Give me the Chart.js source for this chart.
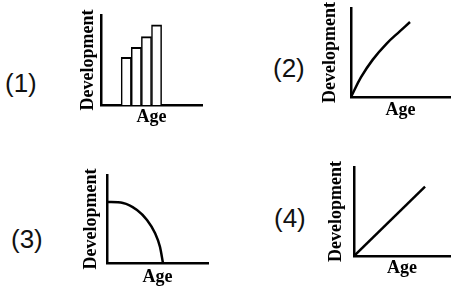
<!DOCTYPE html>
<html><head><meta charset="utf-8">
<script src="https://cdn.jsdelivr.net/npm/chart.js@4"></script>
<style>
html,body{margin:0;padding:0;background:#fff;width:451px;height:291px;overflow:hidden;position:relative}
canvas{position:absolute}
.lbl{position:absolute;font-family:"Liberation Sans",Arial,sans-serif;font-size:26px;line-height:26px;color:#111;white-space:nowrap}
</style></head><body>
<div class="lbl" id="l1" style="left:5px;top:70px"></div>
<div class="lbl" id="l2" style="left:273px;top:55px"></div>
<div class="lbl" id="l3" style="left:11px;top:226px"></div>
<div class="lbl" id="l4" style="left:274px;top:205px"></div>
<canvas id="c1"></canvas>
<canvas id="c2"></canvas>
<canvas id="c3"></canvas>
<canvas id="c4"></canvas>
<script>
// ---- data ----
const panelLabels = ["(1)", "(2)", "(3)", "(4)"];
const xAxisTitle = "Age";
const yAxisTitle = "Development";
// panel 1: bars
const barAges = ["1","2","3","4","5","6","7","8","9","10"];
const barDevelopment = [null, null, 53, 64, 76, 89, null, null, null, null];
// panel 2: rising, flattening curve
const curve2Age = [0, 10, 22, 36, 49.5, 59.6];
const curve2Dev = [0, 22, 42, 60, 74, 84.3];
// panel 3: falling quarter curve
const curve3Age = [0, 15.8, 29.7, 39.6, 47.5, 52.5, 55.4];
const curve3Dev = [69.3, 68.2, 60.2, 48.9, 34.1, 18.2, 0];
// panel 4: straight line
const line4Age = [0, 74];
const line4Dev = [0, 78];

panelLabels.forEach((t, i) => { document.getElementById('l' + (i + 1)).textContent = t; });

const FONT = '"Liberation Serif", "Times New Roman", serif';
const FS = 18;

function toXY(xs, ys) { return xs.map((x, i) => ({ x: x, y: ys[i] })); }

function panel(id, type, data, area, yMid, xMid, xScaleExtra) {
  const pY = Math.round(area.left - 9 - yMid);
  const qX = Math.round(xMid - area.bottom - 9);
  const padL = 4, padT = 8, padR = 1, padB = 7;
  const left = area.left - FS - pY - padL;
  const top = area.top - padT;
  const width = area.right + padR - left;
  const height = area.bottom + FS + qX + padB - top;
  const cv = document.getElementById(id);
  cv.style.left = left + 'px';
  cv.style.top = top + 'px';
  cv.width = width; cv.height = height;
  cv.style.width = width + 'px'; cv.style.height = height + 'px';
  const common = (title, pad) => ({
    display: true,
    grid: { display: false, drawTicks: false, tickLength: 0 },
    border: { display: true, color: '#000', width: 2.5 },
    ticks: { display: false },
    title: { display: true, text: title, color: '#000',
      font: { family: FONT, size: FS, weight: 'bold', lineHeight: 1 }, padding: pad }
  });
  const xs = Object.assign(common(xAxisTitle, { top: qX, bottom: 0 }), xScaleExtra);
  const ys = Object.assign(common(yAxisTitle, { top: 0, bottom: pY }), { type: 'linear', min: 0, max: 100 });
  new Chart(cv, {
    type: type,
    data: data,
    options: {
      responsive: false, animation: false, devicePixelRatio: 1,
      layout: { padding: { left: padL, top: padT, right: padR, bottom: padB } },
      plugins: { legend: { display: false }, tooltip: { enabled: false } },
      scales: { x: xs, y: ys }
    }
  });
}

const lineStyle = { borderColor: '#000', borderWidth: 2.5, pointRadius: 0, fill: false, tension: 0.4 };

panel('c1', 'bar', {
  labels: barAges,
  datasets: [{ data: barDevelopment, backgroundColor: '#fff', borderColor: '#000',
    borderWidth: { top: 2, left: 1.5, right: 1.5, bottom: 0 }, borderSkipped: false,
    barPercentage: 1, categoryPercentage: 1 }]
}, { left: 101, top: 15, right: 202, bottom: 105 }, 88, 117, { type: 'category' });

panel('c2', 'line', {
  datasets: [Object.assign({ data: toXY(curve2Age, curve2Dev) }, lineStyle)]
}, { left: 351, top: 8, right: 450, bottom: 97 }, 330, 110, { type: 'linear', min: 0, max: 100 });

panel('c3', 'line', {
  datasets: [Object.assign({ data: toXY(curve3Age, curve3Dev) }, lineStyle, { cubicInterpolationMode: 'monotone' })]
}, { left: 107, top: 175, right: 208, bottom: 263 }, 91, 277, { type: 'linear', min: 0, max: 100 });

panel('c4', 'line', {
  datasets: [Object.assign({ data: toXY(line4Age, line4Dev) }, lineStyle, { tension: 0 })]
}, { left: 354, top: 167, right: 450, bottom: 256 }, 336, 268, { type: 'linear', min: 0, max: 100 });
</script>
</body></html>
